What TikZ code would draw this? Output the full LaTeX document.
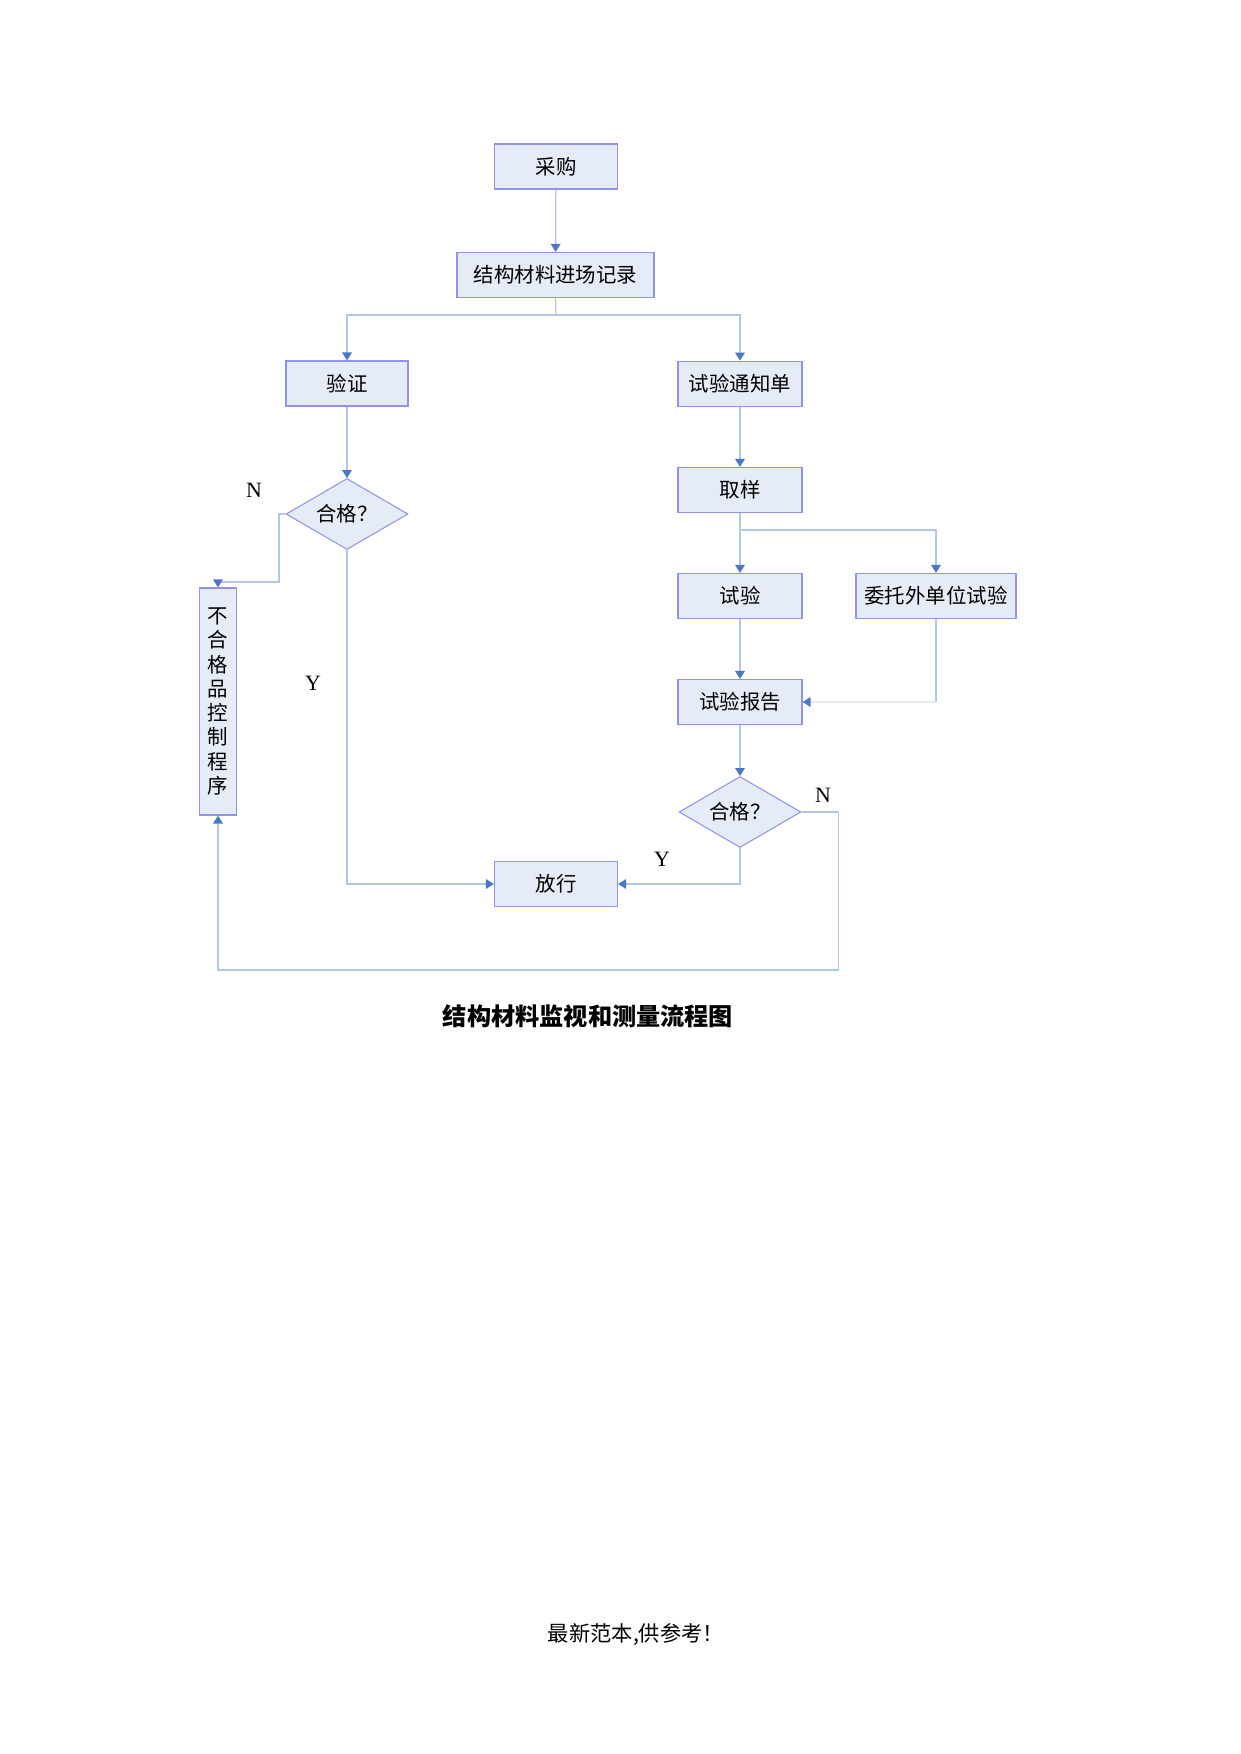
\documentclass[tikz,border=0pt]{standalone}
\usepackage{fontspec}
\setmainfont{Liberation Serif}
\newfontfamily\cjk{Noto Sans CJK SC}
\usetikzlibrary{arrows.meta,shapes.geometric}
\definecolor{fillc}{HTML}{E6ECF7}
\definecolor{bordc}{HTML}{9191F2}
\definecolor{linec}{HTML}{B4C6E8}
\definecolor{faintc}{HTML}{E4EAF2}
\definecolor{arrowc}{HTML}{4A78C6}
\def\pxu{0.47968pt}
\tikzset{
  box/.style={draw=bordc, fill=fillc, line width=0.6pt, inner sep=0pt,
    minimum width=123*\pxu, minimum height=45*\pxu,
    font=\cjk\fontsize{9.8}{12}\selectfont},
  dia/.style={diamond, draw=bordc, fill=fillc, line width=0.5pt, inner sep=0pt,
    aspect=1.72, minimum width=122*\pxu, minimum height=71*\pxu,
    font=\cjk\fontsize{9.8}{12}\selectfont},
  conn/.style={draw=linec, line width=0.6pt,
    -{Triangle[width=4.6pt,length=3.8pt,color=arrowc]}},
  plain/.style={draw=linec, line width=0.6pt},
  lbl/.style={font=\fontsize{10.5}{12}\selectfont, inner sep=0pt}
}
\begin{document}
\begin{tikzpicture}[x=0.47968pt, y=-0.47968pt]
\useasboundingbox (0,0) rectangle (1241,1754);
% nodes
\node[box] (caigou) at (556,166.5) {采购};
\node[box, minimum width=197*\pxu] (jinchang) at (555.5,275) {结构材料进场记录};
\node[box, minimum width=122*\pxu] (yanzheng) at (347,383.5) {验证};
\node[box, minimum width=124*\pxu] (tongzhi) at (740,383.7) {试验通知单};
\node[dia] (dia1) at (347,514) {合格？};
\node[box, minimum width=124*\pxu] (qiyang) at (740,490) {取样};
\node[box, minimum width=124*\pxu] (shiyan) at (740,596) {试验};
\node[box, minimum width=160*\pxu] (weituo) at (936,596) {委托外单位试验};
\node[box, minimum width=124*\pxu] (baogao) at (740,702) {试验报告};
\node[dia] (dia2) at (740,812) {合格？};
\node[box] (fangxing) at (556,884) {放行};
\node[box, minimum width=37*\pxu, minimum height=227*\pxu, align=center,
  font=\cjk\fontsize{9.8}{11.66}\selectfont] (buhege) at (218,701.5)
  {不\\合\\格\\品\\控\\制\\程\\序};
% labels
\node[lbl] (n1) at (254,490) {N};
\node[lbl] (y1) at (313,683) {Y};
\node[lbl] (n2) at (823,795) {N};
\node[lbl] (y2) at (662,859) {Y};
\node[font=\cjk\bfseries\fontsize{11.6}{14}\selectfont] (title) at (588,1016) {结构材料监视和测量流程图};
\node[font=\cjk\fontsize{10.2}{12}\selectfont] (footer) at (636,1635) {最新范本,供参考！};
% junctions
\coordinate (j1) at (556,315);
\coordinate (j2) at (740,530);
\coordinate (n1a) at (279,514);
\coordinate (n1b) at (279,582);
\coordinate (n2a) at (838.5,812);
\coordinate (n2b) at (838.5,970);
\coordinate (wc) at (weituo.south |- baogao.east);
% connectors
\draw[conn] (caigou) -- (jinchang);
\draw[plain] (jinchang.south) -- (j1);
\draw[conn] (j1) -| (yanzheng.north);
\draw[conn] (j1) -| (tongzhi.north);
\draw[conn] (yanzheng) -- (dia1);
\draw[conn] (tongzhi) -- (qiyang);
\draw[conn] (qiyang) -- (shiyan);
\draw[conn] (j2) -| (weituo.north);
\draw[conn] (shiyan) -- (baogao);
\draw[plain] (weituo.south) -- (wc);
\draw[conn, draw=faintc] (wc) -- (baogao.east);
\draw[conn] (baogao) -- (dia2);
\draw[conn] (dia2.south) |- (fangxing.east);
\draw[conn] (dia1.south) |- (fangxing.west);
\draw[conn] (dia1.west) -- (n1a) -- (n1b) -| (buhege.north);
\draw[conn] (dia2.east) -- (n2a) -- (n2b) -| (buhege.south);
\end{tikzpicture}
\end{document}
